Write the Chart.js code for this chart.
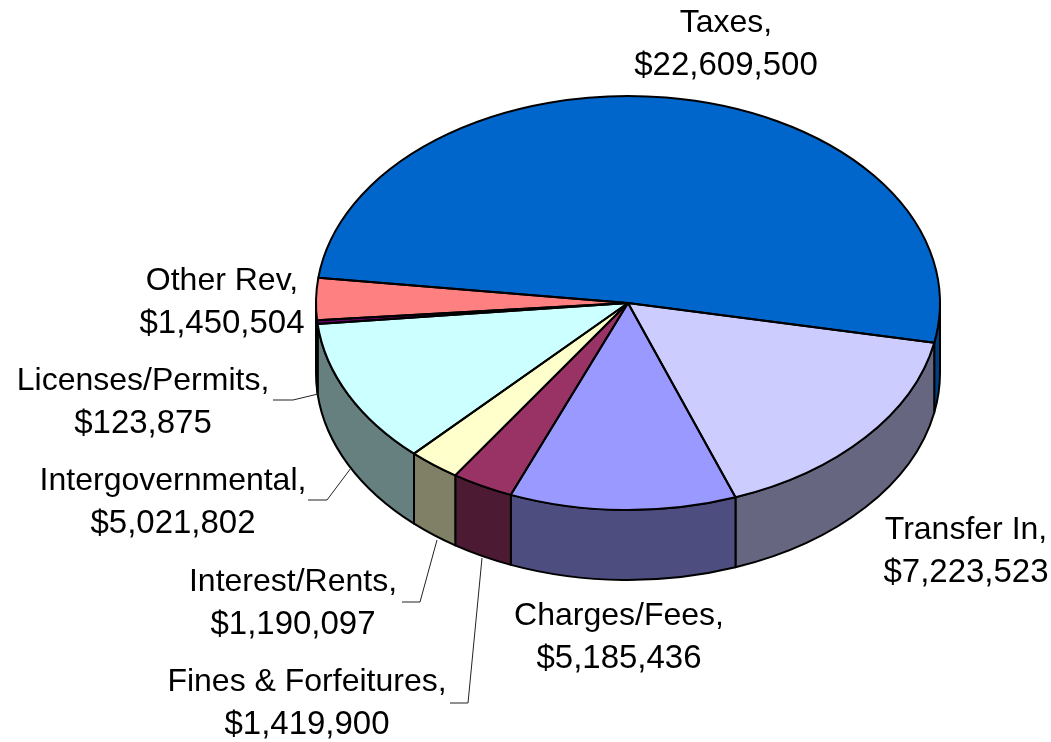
<!DOCTYPE html>
<html>
<head>
<meta charset="utf-8">
<title>Revenue by source</title>
<style>
  html, body { margin: 0; padding: 0; background: #fff; }
  canvas { display: block; }
</style>
<script src="https://cdn.jsdelivr.net/npm/chart.js@4/dist/chart.umd.min.js"></script>
</head>
<body>
<canvas id="pie" width="1051" height="742"></canvas>
<script>
const categories = ['Taxes', 'Transfer In', 'Charges/Fees', 'Fines & Forfeitures', 'Interest/Rents', 'Intergovernmental', 'Licenses/Permits', 'Other Rev'];
const revenue = [22609500, 7223523, 5185436, 1419900, 1190097, 5021802, 123875, 1450504];

const topColors = ['#0066CC', '#CCCCFF', '#9999FF', '#993366', '#FFFFCC', '#CCFFFF', '#660066', '#FF8080'];
const sideColors = ['#004080', '#666680', '#4D4D80', '#4D1A33', '#808066', '#668080', '#330033', '#804040'];

// label centre per category, in page pixels
const labelX = [726, 966, 619, 307, 293, 173, 143, 222];
const labelY = [23, 530, 616, 682, 582, 481, 381, 281];
const LINE_GAP = 43;

// leader lines, only the small slices have one
const leaders = [
  [[273, 400], [293, 400], [318, 394]],
  [[308, 500], [327, 500], [351, 468]],
  [[402, 602], [420, 602], [437, 540]],
  [[450, 703], [468, 703], [482, 558]],
];

// the flat pie gets squashed onto this ellipse, the wall hangs below it
const CX = 628, CY = 303, RX = 312, RY = 207, DEPTH = 70;

function toEllipse(ctx, arc, drop) {
  ctx.translate(CX, CY + drop);
  ctx.scale(RX / arc.outerRadius, RY / arc.outerRadius);
  ctx.translate(-arc.x, -arc.y);
}

function tracePath(ctx, fn) {
  ctx.save();
  fn();
  ctx.restore();
}

const tiltPlugin = {
  id: 'tilt',
  beforeDatasetsDraw(chart) {
    const ctx = chart.ctx;
    ctx.lineWidth = 2;
    ctx.strokeStyle = '#000';
    ctx.lineJoin = 'round';
    // front wall, only the part of each slice facing the viewer
    chart.getDatasetMeta(0).data.forEach((arc, i) => {
      const a0 = Math.max(arc.startAngle, 0);
      const a1 = Math.min(arc.endAngle, Math.PI);
      if (a1 <= a0) return;
      ctx.beginPath();
      tracePath(ctx, () => { toEllipse(ctx, arc, 0); ctx.arc(arc.x, arc.y, arc.outerRadius, a0, a1); });
      tracePath(ctx, () => { toEllipse(ctx, arc, DEPTH); ctx.arc(arc.x, arc.y, arc.outerRadius, a1, a0, true); });
      ctx.closePath();
      ctx.fillStyle = sideColors[i];
      ctx.fill();
      ctx.stroke();
    });
    ctx.save();
    toEllipse(ctx, chart.getDatasetMeta(0).data[0], 0);
  },
  afterDatasetsDraw(chart) {
    const ctx = chart.ctx;
    ctx.restore();

    // outlines are stroked after the restore so the width stays even
    ctx.lineWidth = 2;
    ctx.strokeStyle = '#000';
    ctx.lineJoin = 'round';
    chart.getDatasetMeta(0).data.forEach(arc => {
      ctx.beginPath();
      tracePath(ctx, () => {
        toEllipse(ctx, arc, 0);
        ctx.moveTo(arc.x, arc.y);
        ctx.arc(arc.x, arc.y, arc.outerRadius, arc.startAngle, arc.endAngle);
        ctx.closePath();
      });
      ctx.stroke();
    });

    ctx.lineWidth = 1;
    ctx.strokeStyle = '#222';
    leaders.forEach(pts => {
      ctx.beginPath();
      pts.forEach((p, i) => i ? ctx.lineTo(p[0], p[1]) : ctx.moveTo(p[0], p[1]));
      ctx.stroke();
    });

    ctx.fillStyle = '#000';
    ctx.textAlign = 'center';
    ctx.textBaseline = 'middle';
    categories.forEach((name, i) => {
      ctx.font = '32px "Liberation Sans", Arial, sans-serif';
      ctx.fillText(name + ',', labelX[i], labelY[i]);
      ctx.font = '33px "Liberation Sans", Arial, sans-serif';
      ctx.fillText('$' + revenue[i].toLocaleString('en-US'), labelX[i], labelY[i] + LINE_GAP);
    });
  },
};

new Chart(document.getElementById('pie'), {
  type: 'pie',
  data: {
    labels: categories,
    datasets: [{ data: revenue, backgroundColor: topColors, borderWidth: 0 }],
  },
  options: {
    responsive: false,
    animation: false,
    rotation: -83,
    layout: { padding: { left: 200, right: 200, top: 20, bottom: 20 } },
    plugins: { legend: { display: false }, tooltip: { enabled: false } },
  },
  plugins: [tiltPlugin],
});
</script>
</body>
</html>
